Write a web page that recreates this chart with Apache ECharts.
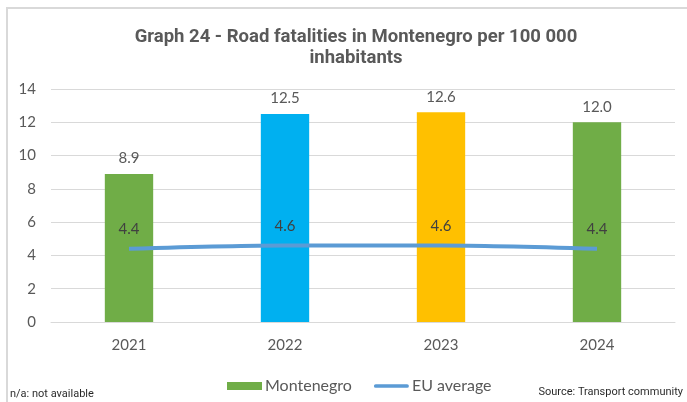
<!DOCTYPE html>
<html>
<head>
<meta charset="utf-8">
<script src="https://cdn.jsdelivr.net/npm/echarts@6/dist/echarts.min.js"></script>
<style>
  html, body { margin: 0; padding: 0; background: #fff; }
  #chart { width: 687px; height: 402px; }
</style>
</head>
<body>
<div id="chart"></div>
<script>
// Road fatalities per 100 000 inhabitants
const years = ['2021', '2022', '2023', '2024'];
const montenegro = [8.9, 12.5, 12.6, 12.0];
const euAverage = [4.4, 4.6, 4.6, 4.4];
const barColors = ['#70AD47', '#00B0F0', '#FFC000', '#70AD47'];
const yTicks = [0, 2, 4, 6, 8, 10, 12, 14];

const textColor = '#595959';
const font = 'Lato, "Open Sans", sans-serif';

const chart = echarts.init(document.getElementById('chart'));
chart.setOption({
  animation: false,
  backgroundColor: '#fff',
  title: {
    text: 'Graph 24 - Road fatalities in Montenegro per 100 000\ninhabitants',
    left: 351,
    textAlign: 'center',
    top: 22,
    textStyle: {
      fontFamily: 'Roboto, sans-serif',
      fontWeight: 'bold',
      fontSize: 18.5,
      lineHeight: 21,
      color: textColor
    }
  },
  graphic: [
    {
      type: 'rect',
      shape: { x: 7, y: 8, width: 700, height: 420 },
      style: { fill: 'none', stroke: '#d9d9d9', lineWidth: 2 },
      silent: true
    },
    {
      type: 'text',
      left: 10,
      top: 389,
      style: { text: 'n/a: not available', font: '11px "Roboto", sans-serif', fill: '#000', opacity: 0.85 }
    },
    {
      type: 'text',
      right: 4,
      top: 387,
      style: { text: 'Source: Transport community', font: '11px "Roboto", sans-serif', fill: '#000', opacity: 0.85 }
    }
  ],
  grid: { left: 51, right: 12, top: 89, bottom: 80 },
  legend: {
    top: 373,
    left: 222,
    itemGap: 22,
    itemWidth: 35,
    itemHeight: 8,
    textStyle: { fontFamily: font, fontSize: 16, color: textColor, padding: [0, 0, 0, -2] },
    data: [
      { name: 'Montenegro', icon: 'rect', itemStyle: { color: '#70AD47' } },
      { name: 'EU average', icon: 'path://M2,2 L36,2 A2,2 0 0 1 36,6 L2,6 A2,2 0 0 1 2,2 Z', itemStyle: { color: '#5B9BD5' } }
    ]
  },
  xAxis: {
    type: 'category',
    data: years,
    axisLine: { lineStyle: { color: '#d9d9d9', width: 1 } },
    axisTick: { show: false },
    axisLabel: { fontFamily: font, fontSize: 15, color: textColor, margin: 16 }
  },
  yAxis: {
    type: 'value',
    min: yTicks[0],
    max: yTicks[yTicks.length - 1],
    interval: 2,
    axisLine: { show: false },
    axisTick: { show: false },
    splitLine: { lineStyle: { color: '#d9d9d9', width: 1 } },
    axisLabel: { fontFamily: font, fontSize: 15, color: textColor, margin: 15 }
  },
  series: [
    {
      name: 'Montenegro',
      type: 'bar',
      barWidth: '31%',
      data: montenegro.map((v, i) => ({ value: v, itemStyle: { color: barColors[i] } })),
      label: {
        show: true,
        position: 'top',
        distance: 8,
        fontFamily: font,
        fontSize: 15,
        color: textColor,
        formatter: p => p.value.toFixed(1)
      },
      z: 2
    },
    {
      name: 'EU average',
      type: 'line',
      data: euAverage,
      smooth: 0.3,
      symbol: 'circle',
      symbolSize: 0.1,
      showSymbol: true,
      lineStyle: { color: '#5B9BD5', width: 4 },
      itemStyle: { color: '#5B9BD5' },
      label: {
        show: true,
        position: 'top',
        distance: 12,
        fontFamily: font,
        fontSize: 15,
        color: '#404040',
        formatter: p => p.value.toFixed(1)
      },
      labelLayout: { hideOverlap: false },
      z: 3
    }
  ]
});
</script>
</body>
</html>
